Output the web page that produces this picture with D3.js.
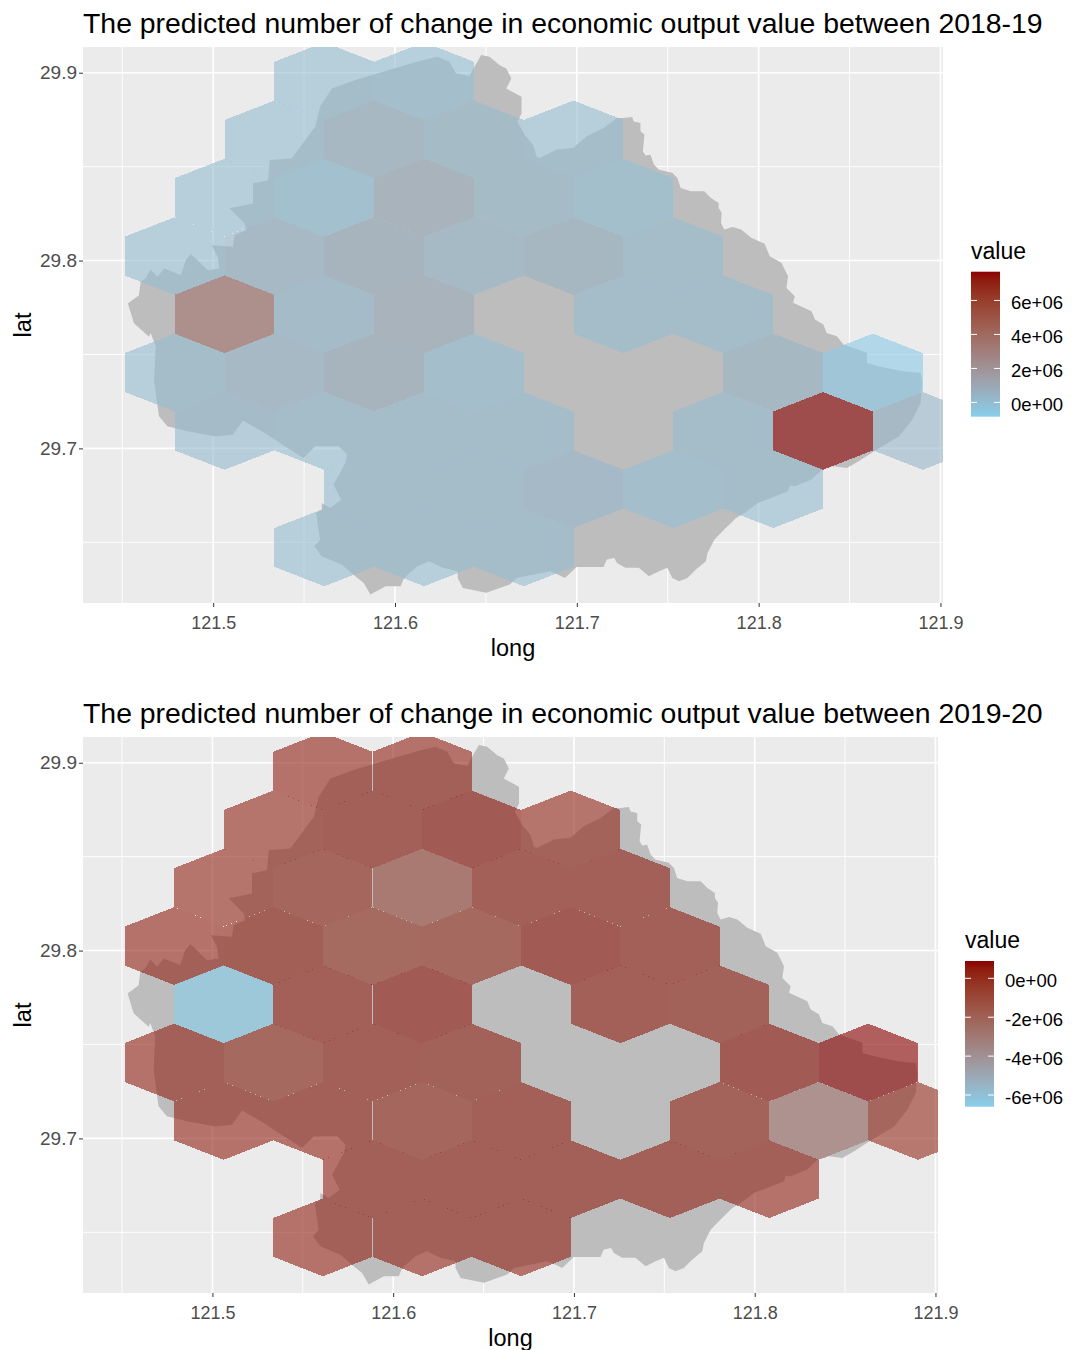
<!DOCTYPE html>
<html>
<head>
<meta charset="utf-8">
<script src="https://cdn.jsdelivr.net/npm/d3@7"></script>
<style>
  html, body { margin: 0; padding: 0; background: #fff; }
  text { font-family: "Liberation Sans", Arial, sans-serif; }
</style>
</head>
<body>
<div id="chart"></div>
<script>
// Hexagon bin centres, one entry per bin, read row by row from the top
var hexLong = [
  121.5611, 121.6160,
  121.5337, 121.5885, 121.6434, 121.6982,
  121.5062, 121.5611, 121.6160, 121.6708, 121.7257,
  121.4788, 121.5337, 121.5885, 121.6434, 121.6982, 121.7531,
  121.5062, 121.5611, 121.6160, 121.7257, 121.7805,
  121.4788, 121.5337, 121.5885, 121.6434, 121.8080, 121.8628,
  121.5062, 121.5611, 121.6160, 121.6708, 121.7805, 121.8354, 121.8903,
  121.5885, 121.6434, 121.6982, 121.7531, 121.8080,
  121.5611, 121.6160, 121.6708
];
var hexLat = [
  29.8955, 29.8955,
  29.8645, 29.8645, 29.8645, 29.8645,
  29.8335, 29.8335, 29.8335, 29.8335, 29.8335,
  29.8024, 29.8024, 29.8024, 29.8024, 29.8024, 29.8024,
  29.7714, 29.7714, 29.7714, 29.7714, 29.7714,
  29.7404, 29.7404, 29.7404, 29.7404, 29.7404, 29.7404,
  29.7093, 29.7093, 29.7093, 29.7093, 29.7093, 29.7093, 29.7093,
  29.6783, 29.6783, 29.6783, 29.6783, 29.6783,
  29.6473, 29.6473, 29.6473
];
var change1819 = [
  10000, -70000,
  10000, 400000, 180000, 10000,
  10000, -240000, 800000, 180000, -160000,
  10000, 300000, 700000, 270000, 500000, 10000,
  3600000, 100000, 800000, 10000, 10000,
  10000, 300000, 700000, -70000, 350000, -670000,
  100000, 10000, 10000, 10000, 10000, 7690000, 300000,
  10000, 10000, 220000, -70000, 10000,
  10000, 10000, 10000
];
var change1920 = [
  290000, 290000,
  140000, 290000, 520000, 140000,
  140000, 0, -1200000, 290000, 290000,
  290000, 370000, -230000, -160000, 520000, 290000,
  -6600000, 290000, 520000, 290000, 200000,
  290000, -160000, 290000, 200000, 520000, 890000,
  290000, 290000, 0, 290000, 140000, -2850000, 0,
  290000, 290000, 290000, 290000, 290000,
  290000, 290000, 290000
];

// Coastline of the county, clockwise from the north-east shore
var coastLong = [
  121.7258, 121.7304, 121.7313, 121.7350, 121.7350, 121.7372, 121.7363, 121.7378, 121.7405, 121.7424,
  121.7452, 121.7525, 121.7553, 121.7571, 121.7627, 121.7701, 121.7738, 121.7780, 121.7780, 121.7797,
  121.7793, 121.7811, 121.7858, 121.7904, 121.7959, 121.8033, 121.8061, 121.8125, 121.8162, 121.8153,
  121.8199, 121.8190, 121.8291, 121.8310, 121.8356, 121.8374, 121.8430, 121.8467, 121.8522, 121.8596,
  121.8596, 121.8660, 121.8790, 121.8891, 121.8900, 121.8891, 121.8845, 121.8771, 121.8633, 121.8550,
  121.8485, 121.8411, 121.8347, 121.8291, 121.8199, 121.8171, 121.8162, 121.7996, 121.7922, 121.7876,
  121.7811, 121.7756, 121.7719, 121.7710, 121.7655, 121.7608, 121.7562, 121.7525, 121.7498, 121.7452,
  121.7396, 121.7341, 121.7267, 121.7221, 121.7206, 121.7165, 121.7147, 121.6999, 121.6935, 121.6898,
  121.6852, 121.6668, 121.6631, 121.6502, 121.6373, 121.6345, 121.6345, 121.6262, 121.6188, 121.6123,
  121.6050, 121.6031, 121.5948, 121.5865, 121.5828, 121.5782, 121.5708, 121.5597, 121.5557, 121.5588,
  121.5566, 121.5597, 121.5597, 121.5644, 121.5704, 121.5662, 121.5727, 121.5736, 121.5690, 121.5561,
  121.5496, 121.5394, 121.5284, 121.5164, 121.5108, 121.5016, 121.4859, 121.4748, 121.4702, 121.4693,
  121.4675, 121.4684, 121.4656, 121.4647, 121.4564, 121.4531, 121.4592, 121.4601, 121.4628, 121.4656,
  121.4693, 121.4730, 121.4822, 121.4850, 121.4878, 121.4970, 121.5034, 121.5025, 121.4992, 121.5108,
  121.5118, 121.5182, 121.5173, 121.5090, 121.5219, 121.5219, 121.5302, 121.5311, 121.5431, 121.5561,
  121.5588, 121.5653, 121.5782, 121.5966, 121.6151, 121.6234, 121.6299, 121.6336, 121.6410, 121.6437,
  121.6474, 121.6520, 121.6576, 121.6612, 121.6640, 121.6612, 121.6696, 121.6696, 121.6673, 121.6714,
  121.6760, 121.6779, 121.6796, 121.6889, 121.6981, 121.7055, 121.7147, 121.7221
];
var coastLat = [
  29.8759, 29.8765, 29.8741, 29.8733, 29.8688, 29.8671, 29.8582, 29.8559, 29.8564, 29.8511,
  29.8484, 29.8467, 29.8440, 29.8387, 29.8369, 29.8369, 29.8333, 29.8307, 29.8280, 29.8254,
  29.8200, 29.8165, 29.8179, 29.8165, 29.8121, 29.8090, 29.8023, 29.7988, 29.7917, 29.7854,
  29.7810, 29.7775, 29.7730, 29.7686, 29.7659, 29.7615, 29.7597, 29.7553, 29.7535, 29.7509,
  29.7455, 29.7438, 29.7411, 29.7402, 29.7348, 29.7242, 29.7153, 29.7064, 29.6984, 29.6931,
  29.6896, 29.6905, 29.6887, 29.6834, 29.6798, 29.6802, 29.6772, 29.6709, 29.6656, 29.6630,
  29.6568, 29.6514, 29.6443, 29.6399, 29.6355, 29.6310, 29.6293, 29.6310, 29.6364, 29.6346,
  29.6319, 29.6364, 29.6364, 29.6390, 29.6417, 29.6408, 29.6369, 29.6369, 29.6310, 29.6328,
  29.6346, 29.6310, 29.6275, 29.6231, 29.6257, 29.6310, 29.6346, 29.6364, 29.6399, 29.6372,
  29.6310, 29.6266, 29.6266, 29.6222, 29.6284, 29.6319, 29.6381, 29.6426, 29.6479, 29.6514,
  29.6656, 29.6674, 29.6709, 29.6683, 29.6727, 29.6807, 29.6922, 29.6967, 29.7011, 29.7011,
  29.6949, 29.7011, 29.7082, 29.7149, 29.7073, 29.7064, 29.7091, 29.7118, 29.7171, 29.7233,
  29.7366, 29.7543, 29.7614, 29.7595, 29.7666, 29.7772, 29.7816, 29.7887, 29.7905, 29.7953,
  29.7914, 29.7958, 29.7923, 29.8003, 29.8035, 29.7949, 29.7958, 29.8020, 29.8082, 29.8074,
  29.8136, 29.8162, 29.8198, 29.8278, 29.8304, 29.8411, 29.8428, 29.8535, 29.8544, 29.8712,
  29.8819, 29.8916, 29.8961, 29.9014, 29.9067, 29.9085, 29.9058, 29.8996, 29.8982, 29.9032,
  29.9094, 29.9085, 29.9040, 29.9023, 29.8969, 29.8916, 29.8872, 29.8783, 29.8739, 29.8668,
  29.8615, 29.8553, 29.8546, 29.8591, 29.8600, 29.8662, 29.8706, 29.8759
];

var longTicks = [121.5, 121.6, 121.7, 121.8, 121.9];
var longMinor = [121.45, 121.55, 121.65, 121.75, 121.85];
var latTicks = [29.7, 29.8, 29.9];
var latMinor = [29.65, 29.75, 29.85];
var longRange = [121.4284, 121.9014];
var latRange = [29.6177, 29.9137];

var legendTicks1819 = [0, 2000000, 4000000, 6000000];
var legendTicks1920 = [-6000000, -4000000, -2000000, 0];
var valueRange1819 = [-840000, 7690000];
var valueRange1920 = [-6600000, 890000];

var title1819 = "The predicted number of change in economic output value between 2018-19";
var title1920 = "The predicted number of change in economic output value between 2019-20";

var width = 1079,
  height = 1350;

var svg = d3
  .select("#chart")
  .append("svg")
  .attr("width", width)
  .attr("height", height)
  .style("display", "block");

// half width of a bin in degrees, and its height from centre to top vertex
var hexDx = 0.02743,
  hexDy = 0.0207;

function drawMap(opts) {
  var x = d3.scaleLinear().domain(longRange).range([opts.left, opts.right]);
  var y = d3.scaleLinear().domain(latRange).range([opts.bottom, opts.top]);
  var color = d3
    .scaleLinear()
    .domain(opts.valueRange)
    .range(["#87ceeb", "#8b0000"])
    .interpolate(d3.interpolateLab);

  var g = svg.append("g");

  g.append("text")
    .attr("x", opts.left)
    .attr("y", opts.top - 14)
    .style("font-size", "28.4px")
    .style("fill", "#000")
    .text(opts.title);

  g.append("rect")
    .attr("x", opts.left)
    .attr("y", opts.top)
    .attr("width", opts.right - opts.left)
    .attr("height", opts.bottom - opts.top)
    .attr("fill", "#ebebeb");

  // Grid
  g.selectAll(".minor-x").data(longMinor).enter().append("line")
    .attr("x1", x).attr("x2", x)
    .attr("y1", opts.top).attr("y2", opts.bottom)
    .attr("stroke", "#fff").attr("stroke-width", 0.9);
  g.selectAll(".minor-y").data(latMinor).enter().append("line")
    .attr("y1", y).attr("y2", y)
    .attr("x1", opts.left).attr("x2", opts.right)
    .attr("stroke", "#fff").attr("stroke-width", 0.9);
  g.selectAll(".major-x").data(longTicks).enter().append("line")
    .attr("x1", x).attr("x2", x)
    .attr("y1", opts.top).attr("y2", opts.bottom)
    .attr("stroke", "#fff").attr("stroke-width", 1.6);
  g.selectAll(".major-y").data(latTicks).enter().append("line")
    .attr("y1", y).attr("y2", y)
    .attr("x1", opts.left).attr("x2", opts.right)
    .attr("stroke", "#fff").attr("stroke-width", 1.6);

  var clipId = "clip" + opts.top;
  g.append("clipPath").attr("id", clipId).append("rect")
    .attr("x", opts.left)
    .attr("y", opts.top)
    .attr("width", opts.right - opts.left)
    .attr("height", opts.bottom - opts.top);

  var plot = g.append("g").attr("clip-path", "url(#" + clipId + ")");

  // Land
  var coast = d3.line()
    .x(function (d) { return x(d[0]); })
    .y(function (d) { return y(d[1]); })
    .curve(d3.curveLinearClosed);
  plot.append("path")
    .datum(d3.zip(coastLong, coastLat))
    .attr("d", coast)
    .attr("fill", "#bdbdbd");

  // Hex bins
  plot.selectAll(".hex")
    .data(d3.zip(hexLong, hexLat, opts.values))
    .enter()
    .append("path")
    .attr("class", "hex")
    .attr("d", function (d) {
      var pts = [
        [d[0], d[1] + hexDy],
        [d[0] + hexDx, d[1] + hexDy / 2],
        [d[0] + hexDx, d[1] - hexDy / 2],
        [d[0], d[1] - hexDy],
        [d[0] - hexDx, d[1] - hexDy / 2],
        [d[0] - hexDx, d[1] + hexDy / 2]
      ];
      return "M" + pts.map(function (p) { return x(p[0]) + "," + y(p[1]); }).join("L") + "Z";
    })
    .attr("fill", function (d) { return color(d[2]); })
    .attr("fill-opacity", 0.6)
    .attr("shape-rendering", "crispEdges");

  // Axes
  var xAxis = g.append("g")
    .attr("transform", "translate(0," + opts.bottom + ")")
    .call(d3.axisBottom(x).tickValues(longTicks).tickSize(4).tickPadding(9).tickFormat(d3.format(".1f")));
  var yAxis = g.append("g")
    .attr("transform", "translate(" + opts.left + ",0)")
    .call(d3.axisLeft(y).tickValues(latTicks).tickSize(4).tickPadding(2).tickFormat(d3.format(".1f")));
  [xAxis, yAxis].forEach(function (axis) {
    axis.select(".domain").remove();
    axis.selectAll("line").attr("stroke", "#333").attr("stroke-width", 1);
    axis.selectAll("text").style("font-size", "18px").style("fill", "#4d4d4d").style("font-family", "Liberation Sans");
  });
  yAxis.selectAll("text").style("font-size", "19px");

  g.append("text")
    .attr("x", (opts.left + opts.right) / 2)
    .attr("y", opts.bottom + 53)
    .attr("text-anchor", "middle")
    .style("font-size", "23.5px")
    .text("long");
  g.append("text")
    .attr("transform", "translate(31," + (opts.top + opts.bottom) / 2 + ") rotate(-90)")
    .attr("text-anchor", "middle")
    .style("font-size", "23.5px")
    .text("lat");

  // Colour bar legend
  var barY = d3.scaleLinear().domain(opts.valueRange).range([opts.barBottom, opts.barTop]);
  var gradId = "grad" + opts.top;
  var grad = g.append("linearGradient")
    .attr("id", gradId)
    .attr("x1", 0).attr("x2", 0).attr("y1", 1).attr("y2", 0);
  grad.selectAll("stop")
    .data(d3.range(0, 1.001, 0.05))
    .enter()
    .append("stop")
    .attr("offset", function (t) { return t; })
    .attr("stop-color", function (t) {
      return color(opts.valueRange[0] + t * (opts.valueRange[1] - opts.valueRange[0]));
    });

  g.append("text")
    .attr("x", opts.barLeft)
    .attr("y", opts.barTop - 13)
    .style("font-size", "23px")
    .text("value");
  g.append("rect")
    .attr("x", opts.barLeft)
    .attr("y", opts.barTop)
    .attr("width", 29)
    .attr("height", opts.barBottom - opts.barTop)
    .attr("fill", "url(#" + gradId + ")");

  var tick = g.selectAll(".legend-tick").data(opts.legendTicks).enter().append("g");
  tick.append("line")
    .attr("x1", opts.barLeft).attr("x2", opts.barLeft + 6)
    .attr("y1", barY).attr("y2", barY)
    .attr("stroke", "#fff");
  tick.append("line")
    .attr("x1", opts.barLeft + 23).attr("x2", opts.barLeft + 29)
    .attr("y1", barY).attr("y2", barY)
    .attr("stroke", "#fff");
  tick.append("text")
    .attr("x", opts.barLeft + 40)
    .attr("y", function (d) { return barY(d) + 8.7; })
    .style("font-size", "18.5px")
    .text(function (d) {
      // R style label: -2e+06, with a plain hyphen
      return d3.format(".0e")(d).replace("\u2212", "-").replace(/e([+-])(\d)$/, "e$10$2");
    });
}

drawMap({
  title: title1819,
  values: change1819,
  valueRange: valueRange1819,
  legendTicks: legendTicks1819,
  left: 83, right: 943, top: 47, bottom: 603,
  barLeft: 971, barTop: 271.7, barBottom: 416.7
});

drawMap({
  title: title1920,
  values: change1920,
  valueRange: valueRange1920,
  legendTicks: legendTicks1920,
  left: 83, right: 938, top: 737, bottom: 1293,
  barLeft: 965, barTop: 961, barBottom: 1106.7
});
</script>
</body>
</html>
